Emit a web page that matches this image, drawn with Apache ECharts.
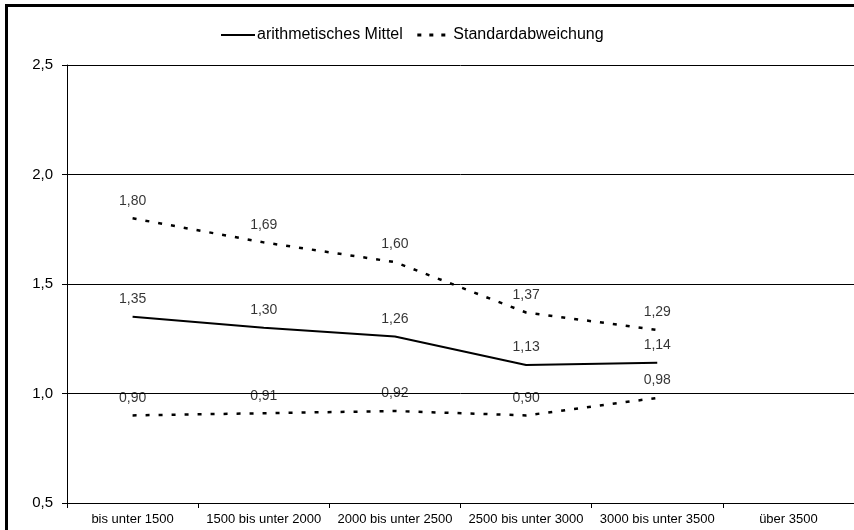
<!DOCTYPE html>
<html>
<head>
<meta charset="utf-8">
<script src="https://cdn.jsdelivr.net/npm/echarts@6/dist/echarts.min.js"></script>
<style>
html,body{margin:0;padding:0;background:#fff;}
#chart{width:854px;height:530px;}
</style>
</head>
<body>
<div id="chart"></div>
<script>
const categories = ['bis unter 1500','1500 bis unter 2000','2000 bis unter 2500','2500 bis unter 3000','3000 bis unter 3500','über 3500'];
const meanValues = [1.35, 1.30, 1.26, 1.13, 1.14, null];
const sdUpper = [1.80, 1.69, 1.60, 1.37, 1.29, null];
const sdLower = [0.90, 0.91, 0.92, 0.90, 0.98, null];
const yTicks = [0.5, 1.0, 1.5, 2.0, 2.5];

const FONT = '"Liberation Sans", Arial, sans-serif';
const fmt2 = v => v.toFixed(2).replace('.', ',');
const lbl = {
  show: true, position: 'top', distance: 10,
  color: '#000', fontFamily: FONT, fontSize: 14,
  formatter: p => fmt2(p.value)
};
const dashed = [4, 9];

function lineSeries(name, data, type, width) {
  return {
    name: name, type: 'line', data: data,
    symbol: 'none', showSymbol: false,
    lineStyle: {color: '#000', width: width, type: type},
    itemStyle: {color: '#000'}
  };
}
function labelSeries(data) {
  return {
    name: '_labels', type: 'scatter', data: data,
    symbolSize: 1, itemStyle: {color: 'rgba(0,0,0,0)'},
    label: lbl, silent: true
  };
}

const chart = echarts.init(document.getElementById('chart'), null, {renderer: 'canvas'});
chart.setOption({
  animation: false,
  backgroundColor: '#fff',
  graphic: [{
    type: 'rect', z: 100,
    shape: {x: 6.5, y: 5.5, width: 1000, height: 700},
    style: {fill: 'none', stroke: '#000', lineWidth: 3}
  }],
  legend: {
    top: 22, left: 215,
    itemWidth: 34, itemHeight: 12, itemGap: 13,
    itemStyle: {opacity: 0},
    textStyle: {fontFamily: FONT, fontSize: 16, color: '#000', padding: [0, 0, 0, -3]},
    data: [
      {name: 'arithmetisches Mittel', lineStyle: {width: 2, type: 'solid'}},
      {name: 'Standardabweichung', lineStyle: {width: 3, type: [4, 8]}}
    ]
  },
  grid: {left: 67, top: 65, width: 794, bottom: 27, containLabel: false},
  xAxis: {
    type: 'category', data: categories, boundaryGap: true,
    axisLine: {lineStyle: {color: '#000', width: 1}},
    axisTick: {show: true, length: 5, inside: false, lineStyle: {color: '#000'}},
    axisLabel: {color: '#000', fontFamily: FONT, fontSize: 13, margin: 10, interval: 0}
  },
  yAxis: {
    type: 'value', min: yTicks[0], max: yTicks[yTicks.length - 1], interval: 0.5,
    axisLine: {show: true, lineStyle: {color: '#000', width: 1}},
    axisTick: {show: true, length: 5, lineStyle: {color: '#000'}},
    axisLabel: {color: '#000', fontFamily: FONT, fontSize: 15, margin: 14,
      formatter: v => v.toFixed(1).replace('.', ',')},
    splitLine: {show: true, lineStyle: {color: '#000', width: 1}}
  },
  series: [
    lineSeries('arithmetisches Mittel', meanValues, 'solid', 2),
    lineSeries('Standardabweichung', sdUpper, dashed, 2.5),
    lineSeries('Standardabweichung', sdLower, dashed, 2.5),
    labelSeries(meanValues),
    labelSeries(sdUpper),
    labelSeries(sdLower)
  ]
});
</script>
</body>
</html>
